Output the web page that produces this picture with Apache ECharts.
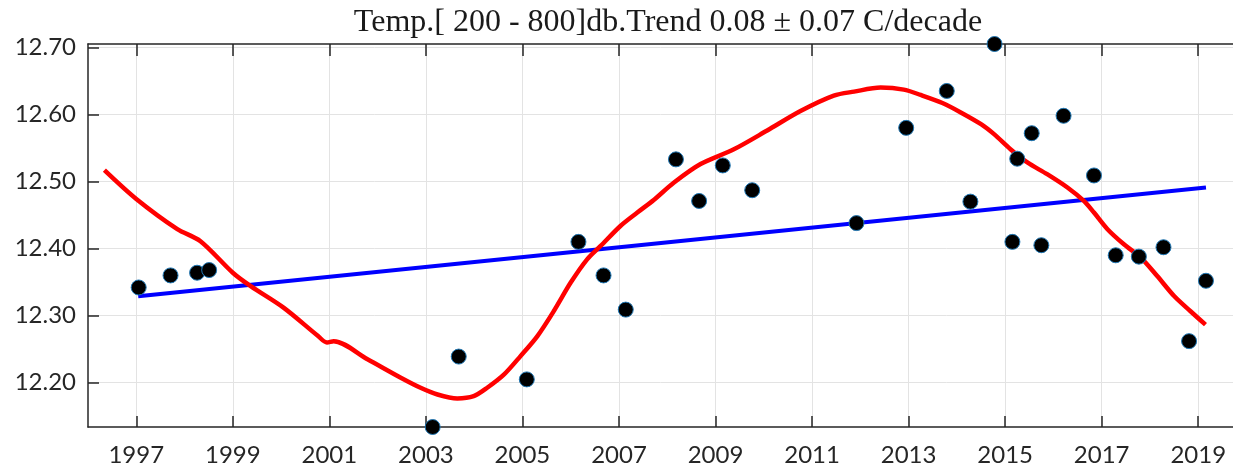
<!DOCTYPE html>
<html>
<head>
<meta charset="utf-8">
<script src="https://cdn.jsdelivr.net/npm/echarts@6/dist/echarts.min.js"></script>
<style>
html,body{margin:0;padding:0;background:#fff;overflow:hidden;}
#chart{width:1233px;height:467px;}
</style>
</head>
<body>
<div id="chart"></div>
<script>
// Observation points (year, temperature)
const obsYears = [1997.05, 1997.71, 1998.26, 1998.51, 2003.14, 2003.68, 2005.09, 2006.16, 2006.68, 2007.14,
  2008.18, 2008.66, 2009.15, 2009.76, 2011.92, 2012.95, 2013.79, 2014.28, 2014.78, 2015.15,
  2015.25, 2015.55, 2015.75, 2016.21, 2016.84, 2017.29, 2017.77, 2018.28, 2018.81, 2019.16];
const obsTemps = [12.342, 12.360, 12.364, 12.368, 12.134, 12.239, 12.205, 12.410, 12.360, 12.309,
  12.533, 12.471, 12.524, 12.487, 12.438, 12.580, 12.635, 12.470, 12.705, 12.410,
  12.534, 12.572, 12.405, 12.598, 12.509, 12.390, 12.388, 12.402, 12.262, 12.352];

// Linear trend line endpoints
const trendYears = [1997.04, 2019.16];
const trendTemps = [12.329, 12.491];

// Smoothed curve
const smoothYears = [1996.34, 1997.0, 1997.85, 1998.33, 1999.0, 1999.37, 2000.05, 2000.76, 2000.95, 2001.09,
  2001.79, 2002.48, 2002.89, 2003.24, 2003.65, 2003.99, 2004.27, 2004.62, 2004.96, 2005.31,
  2005.65, 2006.0, 2006.34, 2006.62, 2007.03, 2007.38, 2007.72, 2008.14, 2008.69, 2009.38,
  2010.07, 2010.76, 2011.45, 2011.87, 2012.42, 2012.9, 2013.25, 2013.7, 2014.08, 2014.5,
  2014.77, 2015.11, 2015.46, 2015.87, 2016.29, 2016.63, 2016.84, 2017.12, 2017.46, 2017.81,
  2018.15, 2018.5, 2018.84, 2019.15];
const smoothTemps = [12.517, 12.474, 12.429, 12.411, 12.364, 12.344, 12.312, 12.270, 12.260, 12.262,
  12.235, 12.2075, 12.1925, 12.1825, 12.1766, 12.180, 12.1925, 12.2124, 12.2397, 12.2696,
  12.3069, 12.3493, 12.384, 12.4039, 12.4337, 12.4537, 12.4725, 12.4985, 12.526, 12.548,
  12.576, 12.605, 12.628, 12.634, 12.640, 12.637, 12.629, 12.617, 12.603, 12.5855,
  12.5706, 12.5482, 12.5284, 12.5109, 12.491, 12.471, 12.4537, 12.4289, 12.4064, 12.3866,
  12.3591, 12.3293, 12.3066, 12.2866];

const xTicks = [1997, 1999, 2001, 2003, 2005, 2007, 2009, 2011, 2013, 2015, 2017, 2019];
const yTicks = [12.2, 12.3, 12.4, 12.5, 12.6, 12.7];
const titleText = 'Temp.[ 200 - 800]db.Trend 0.08 \u00b1 0.07 C/decade';

const zip = (a, b) => a.map((v, i) => [v, b[i]]);

const chart = echarts.init(document.getElementById('chart'), null, {renderer: 'canvas'});
const axisColor = '#262626';
const gridColor = '#e3e3e3';
const xMin = 1996, xMax = 2019.72;
chart.setOption({
  animation: false,
  title: {
    text: titleText,
    left: 663, textAlign: 'center', top: 2,
    textStyle: {fontFamily: 'Liberation Serif', fontWeight: 'normal', fontSize: 32, color: '#1a1a1a'}
  },
  grid: {left: 88, right: 0, top: 44, bottom: 40, containLabel: false},
  xAxis: [{
    type: 'value', min: xMin, max: xMax, position: 'bottom',
    axisLine: {show: true, onZero: false, lineStyle: {color: axisColor, width: 1.5}},
    axisTick: {show: true, inside: true, length: 11, customValues: xTicks, lineStyle: {color: axisColor, width: 1.5}},
    axisLabel: {show: true, customValues: xTicks, margin: 16, fontFamily: 'Lato', fontSize: 24, color: axisColor,
      formatter: v => String(Math.round(v))},
    splitLine: {show: true, lineStyle: {color: gridColor, width: 1}}
  }, {
    type: 'value', min: xMin, max: xMax, position: 'top',
    axisLine: {show: true, onZero: false, lineStyle: {color: axisColor, width: 1.5}},
    axisTick: {show: true, inside: true, length: 12, customValues: xTicks, lineStyle: {color: axisColor, width: 1.5}},
    axisLabel: {show: false},
    splitLine: {show: false}
  }],
  yAxis: {
    type: 'value', min: 12.134, max: 12.705,
    axisLine: {show: true, onZero: false, lineStyle: {color: axisColor, width: 1.5}},
    axisTick: {show: true, inside: true, length: 11, customValues: yTicks, lineStyle: {color: axisColor, width: 1.5}},
    axisLabel: {show: true, customValues: yTicks, margin: 12, fontFamily: 'Lato', fontSize: 24, color: axisColor,
      formatter: v => v.toFixed(2)},
    splitLine: {show: true, lineStyle: {color: gridColor, width: 1}}
  },
  series: [{
    type: 'line', data: zip(trendYears, trendTemps), symbol: 'none',
    lineStyle: {color: '#0000ff', width: 4}, z: 3
  }, {
    type: 'line', data: zip(smoothYears, smoothTemps), symbol: 'none', smooth: 0.3,
    lineStyle: {color: '#ff0000', width: 4.5}, z: 4
  }, {
    type: 'scatter', data: zip(obsYears, obsTemps), symbol: 'circle', symbolSize: 15, clip: false,
    itemStyle: {color: '#000000', opacity: 1, borderColor: '#1f77b4', borderWidth: 1}, z: 5
  }]
});
</script>
</body>
</html>
